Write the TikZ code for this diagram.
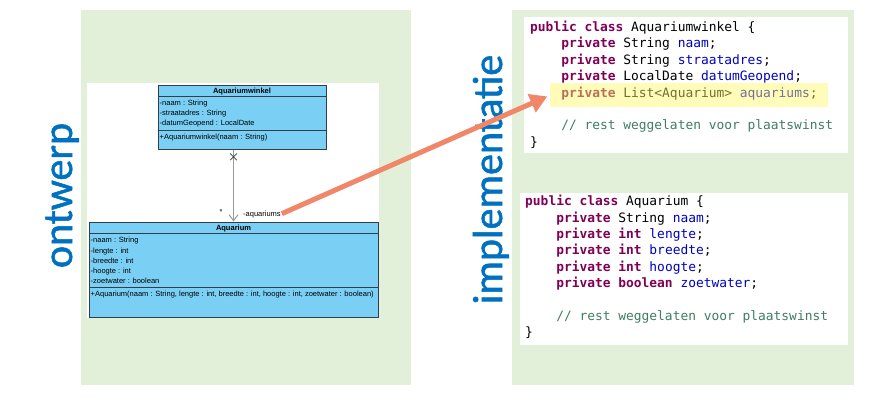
\documentclass[tikz,border=0pt]{standalone}
\usepackage{fontspec}
\setmainfont{Liberation Sans}
\newfontfamily\umlfont{Liberation Sans}
\newfontfamily\codefont{DejaVu Sans Mono}
\newfontfamily\labelfont[FakeBold=1.3]{Carlito}
\usetikzlibrary{positioning,arrows.meta,shapes.misc}

\definecolor{panelgreen}{RGB}{226,240,217}
\definecolor{umlblue}{RGB}{122,207,245}
\definecolor{umledge}{RGB}{55,60,75}
\definecolor{titleblue}{RGB}{0,112,192}
\definecolor{arrowsalmon}{RGB}{239,135,104}
\definecolor{kwcol}{RGB}{127,0,85}
\definecolor{fldcol}{RGB}{0,0,192}
\definecolor{cmtcol}{RGB}{63,127,95}
\definecolor{hlyellow}{RGB}{255,250,100}

\newcommand{\jkw}[1]{\textcolor{kwcol}{\bfseries #1}}
\newcommand{\jfld}[1]{\textcolor{fldcol}{#1}}
\newcommand{\jcmt}[1]{\textcolor{cmtcol}{#1}}
\newcommand{\jind}{\hphantom{0000}}

\begin{document}
\begin{tikzpicture}[x=1pt, y=-1pt,
		panel/.style={fill=panelgreen},
		umlbox/.style={draw=umledge, fill=umlblue, line width=0.8pt, inner sep=0pt},
		umlsep/.style={draw=umledge, line width=0.8pt},
		umltext/.style={font=\umlfont\fontsize{7.5}{10.2}\selectfont, inner sep=0pt, align=left},
		umltitle/.style={font=\umlfont\bfseries\fontsize{7.5}{10}\selectfont, inner sep=0pt},
		code/.style={font=\codefont\fontsize{12.9}{16.4}\selectfont, inner sep=0pt, anchor=base west},
		hilite/.style={fill=hlyellow, fill opacity=0.45, inner sep=0pt},
		sidelabel/.style={font=\labelfont\fontsize{42}{42}\selectfont, text=titleblue,
			rotate=90, anchor=base, inner sep=0pt},
		assoc/.style={draw=gray!80, line width=1pt, -{Straight Barb[length=6pt,width=9pt]}},
		bigarrow/.style={draw=arrowsalmon, line width=5pt,
			-{Triangle[length=17pt,width=19pt]}, shorten <=1pt, shorten >=3pt}]
		\useasboundingbox (0,0) rectangle (883,401);

		% panels
		\fill[panel] (81,10) rectangle (411,385);
		\fill[white] (87,83) rectangle (379,318);
		\fill[panel] (512,10) rectangle (854,385);
		\fill[white] (524,17) rectangle (848,153);
		\fill[white] (520,193) rectangle (848,345);

		\node[sidelabel] (ontwerp) at (72,195.5) {ontwerp};
		\node[sidelabel] (impl) at (502,179.5) {implementatie};

		% class Aquariumwinkel
		\node[umlbox, anchor=north west, minimum width=168pt, minimum height=64pt] (winkel) at (158,85) {};
		\draw[umlsep] ([yshift=-11.5pt]winkel.north west) -- ([yshift=-11.5pt]winkel.north east);
		\draw[umlsep] ([yshift=-45pt]winkel.north west) -- ([yshift=-45pt]winkel.north east);
		\node[umltitle, anchor=base] (winkeltitle) at (242,93.7) {Aquariumwinkel};
		\node[umltext, anchor=base west] (winkelattr) at (159.5,126) {-naam : String\\-straatadres : String\\-datumGeopend : LocalDate};
		\node[umltext, anchor=base west] (winkelops) at (159.5,139.5) {+Aquariumwinkel(naam : String)};

		% class Aquarium
		\node[umlbox, anchor=north west, minimum width=289pt, minimum height=95pt] (aquarium) at (89,221.5) {};
		\draw[umlsep] ([yshift=-11.5pt]aquarium.north west) -- ([yshift=-11.5pt]aquarium.north east);
		\draw[umlsep] ([yshift=-65.5pt]aquarium.north west) -- ([yshift=-65.5pt]aquarium.north east);
		\node[umltitle, anchor=base] (aquariumtitle) at (233.5,230.4) {Aquarium};
		\node[umltext, anchor=base west] (aquariumattr) at (90.5,283.7) {-naam : String\\-lengte : int\\-breedte : int\\-hoogte : int\\-zoetwater : boolean};
		\node[umltext, anchor=base west] (aquariumops) at (90.5,296.4) {+Aquarium(naam : String, lengte : int, breedte : int, hoogte : int, zoetwater : boolean)};

		% association
		\coordinate (assoctop) at ([xshift=75.5pt]winkel.south west);
		\draw[assoc] (assoctop) -- (assoctop |- aquarium.north);
		\node[draw=umledge, cross out, line width=0.7pt, minimum size=6pt, inner sep=0pt] (nonav) at ([yshift=-7pt]assoctop) {};
		\node[umltext, anchor=base] (mult) at (221,214.5) {*};
		\node[umltext, anchor=base west] (aqlabel) at (243,216) {-aquariums};

		% code
		\foreach \ln [count=\i from 0] in {
			{\jkw{public class} Aquariumwinkel \{},
			{\jind\jkw{private} String \jfld{naam};},
			{\jind\jkw{private} String \jfld{straatadres};},
			{\jind\jkw{private} LocalDate \jfld{datumGeopend};},
			{\jind\jkw{private} List<Aquarium> \jfld{aquariums};},
			{},
			{\jind\jcmt{// rest weggelaten voor plaatswinst}},
			{\}}}
			\node[code] (winkelcode\i) at (530,{31.5+16.4*\i}) {\ln};
		\foreach \ln [count=\i from 0] in {
			{\jkw{public class} Aquarium \{},
			{\jind\jkw{private} String \jfld{naam};},
			{\jind\jkw{private int} \jfld{lengte};},
			{\jind\jkw{private int} \jfld{breedte};},
			{\jind\jkw{private int} \jfld{hoogte};},
			{\jind\jkw{private boolean} \jfld{zoetwater};},
			{},
			{\jind\jcmt{// rest weggelaten voor plaatswinst}},
			{\}}}
			\node[code] (aquariumcode\i) at (525,{205.7+16.4*\i}) {\ln};

		\node[hilite, anchor=north west, minimum width=278pt, minimum height=24pt] (hl) at (550,83) {};

		\draw[bigarrow] (aqlabel.east) -- (hl.west);
\end{tikzpicture}
\end{document}
